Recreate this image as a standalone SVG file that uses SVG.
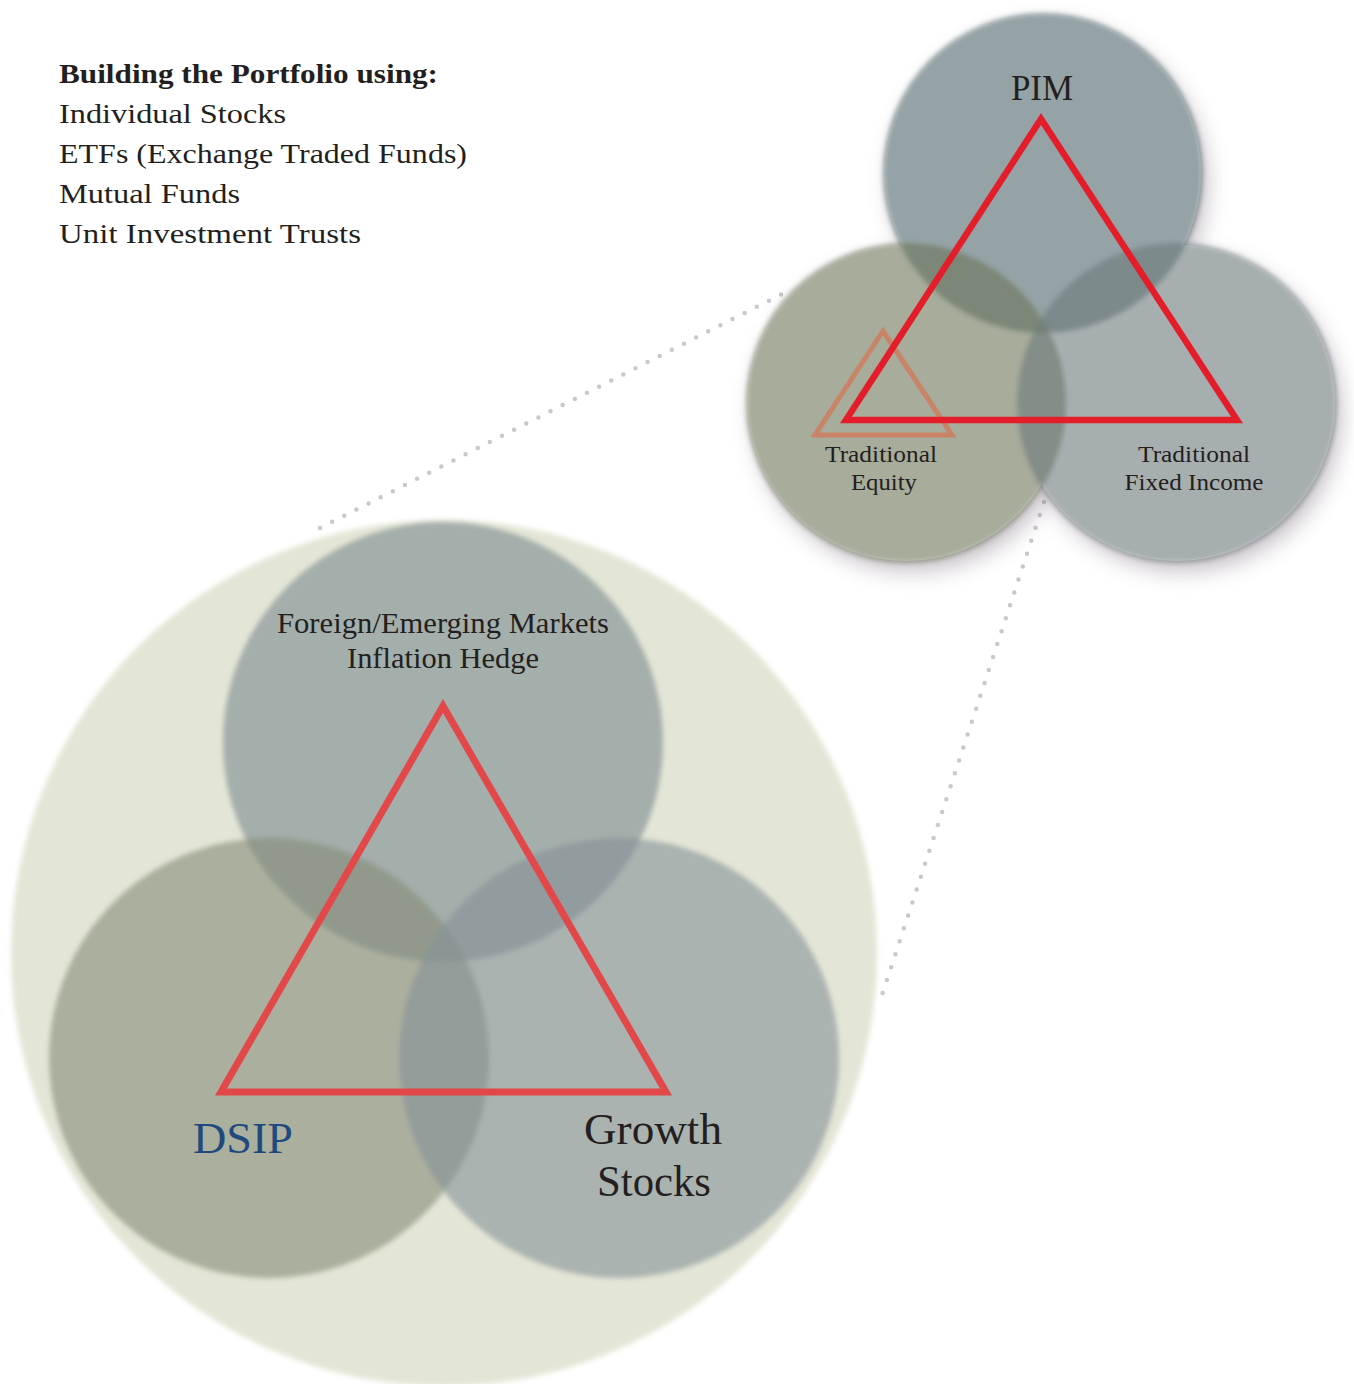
<svg xmlns="http://www.w3.org/2000/svg" width="1354" height="1384" viewBox="0 0 1354 1384">
<defs>
<style>
.dots{fill:none;stroke:#c9c9cb;stroke-width:4.5;stroke-linecap:round;stroke-dasharray:0 13.6}
.hdr{font-family:"Liberation Serif",serif;font-size:28px;fill:#231f20}
.lbl{font-family:"Liberation Serif",serif;fill:#231f20;text-anchor:middle}
.c{fill-opacity:0.6}
.tri{fill:none;stroke-linejoin:miter}
</style>
<filter id="soft" x="-10%" y="-10%" width="120%" height="120%">
<feGaussianBlur stdDeviation="2.5"/>
</filter>
<filter id="shadow" x="-20%" y="-20%" width="140%" height="140%">
<feGaussianBlur stdDeviation="11"/>
</filter>
<mask id="outside" maskUnits="userSpaceOnUse" x="0" y="0" width="1354" height="1384">
<rect width="1354" height="1384" fill="#ffffff"/>
<circle cx="1043" cy="173" r="158" fill="#000000"/>
<circle cx="906" cy="403" r="158" fill="#000000"/>
<circle cx="1177" cy="403" r="158" fill="#000000"/>
</mask>
</defs>
<rect width="1354" height="1384" fill="#ffffff"/>

<g id="connectors">
<line class="dots" x1="320" y1="528" x2="784" y2="293"/>
<line class="dots" x1="1044" y1="502" x2="882" y2="995"/>
</g>

<g id="title-text">
<text class="hdr" x="59" y="83" font-weight="bold" textLength="379" lengthAdjust="spacingAndGlyphs">Building the Portfolio using:</text>
<text class="hdr" x="59" y="123" textLength="227" lengthAdjust="spacingAndGlyphs">Individual Stocks</text>
<text class="hdr" x="59" y="163" textLength="408" lengthAdjust="spacingAndGlyphs">ETFs (Exchange Traded Funds)</text>
<text class="hdr" x="59" y="203" textLength="181" lengthAdjust="spacingAndGlyphs">Mutual Funds</text>
<text class="hdr" x="59" y="243" textLength="302" lengthAdjust="spacingAndGlyphs">Unit Investment Trusts</text>
</g>

<!-- top-right cluster shadow (only outside the circles) -->
<g mask="url(#outside)">
<g opacity="0.4" filter="url(#shadow)" fill="#6e5f70">
<circle cx="1049" cy="183" r="158"/>
<circle cx="912" cy="413" r="158"/>
<circle cx="1183" cy="413" r="158"/>
</g>
</g>

<g id="node-pim">
<circle class="c" cx="1043" cy="173" r="160" fill="#50666b" filter="url(#soft)"/>
<text class="lbl" x="1042" y="100" font-size="35">PIM</text>
</g>
<g id="node-traditional-equity">
<circle class="c" cx="906" cy="403" r="160" fill="#6c7558" filter="url(#soft)"/>
<text class="lbl" x="881" y="462" font-size="24" textLength="112" lengthAdjust="spacingAndGlyphs">Traditional</text>
<text class="lbl" x="884" y="490" font-size="24" textLength="66" lengthAdjust="spacingAndGlyphs">Equity</text>
</g>
<g id="node-traditional-fixed-income">
<circle class="c" cx="1177" cy="403" r="160" fill="#6c787b" filter="url(#soft)"/>
<text class="lbl" x="1194" y="462" font-size="24" textLength="112" lengthAdjust="spacingAndGlyphs">Traditional</text>
<text class="lbl" x="1194" y="490" font-size="24" textLength="139" lengthAdjust="spacingAndGlyphs">Fixed Income</text>
</g>

<g id="small-triangle">
<polygon class="tri" points="883,331 815,435 952,435" stroke="#c98468" stroke-width="5"/>
</g>
<g id="top-triangle">
<polygon class="tri" points="1041,119 846,420 1237,420" stroke="#e31e2a" stroke-width="6.5"/>
</g>

<!-- big diagram -->
<g id="node-portfolio-background">
<circle cx="444" cy="953" r="433" fill="#e3e6d6" filter="url(#soft)"/>
</g>
<g id="node-foreign-emerging">
<circle class="c" cx="443" cy="742" r="220" fill="#7a898e" filter="url(#soft)"/>
<text class="lbl" x="443" y="633" font-size="29" textLength="332" lengthAdjust="spacingAndGlyphs">Foreign/Emerging Markets</text>
<text class="lbl" x="443" y="668" font-size="29" textLength="192" lengthAdjust="spacingAndGlyphs">Inflation Hedge</text>
</g>
<g id="node-dsip">
<circle class="c" cx="269" cy="1058" r="220" fill="#858c78" filter="url(#soft)"/>
<text class="lbl" x="243" y="1153" font-size="45" style="fill:#1f4a7d" textLength="100" lengthAdjust="spacingAndGlyphs">DSIP</text>
</g>
<g id="node-growth-stocks">
<circle class="c" cx="619" cy="1058" r="220" fill="#869198" filter="url(#soft)"/>
<text class="lbl" x="653" y="1144" font-size="45" textLength="138" lengthAdjust="spacingAndGlyphs">Growth</text>
<text class="lbl" x="654" y="1196" font-size="45" textLength="114" lengthAdjust="spacingAndGlyphs">Stocks</text>
</g>

<g id="big-triangle">
<polygon class="tri" points="443,706 221,1092 666,1092" stroke="#e2474a" stroke-width="7"/>
</g>
</svg>
